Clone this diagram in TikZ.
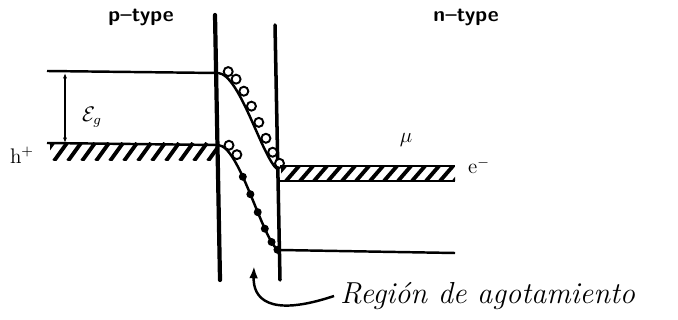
\documentclass[tikz,border=0pt]{standalone}
\usetikzlibrary{arrows.meta,positioning,calc}
\usepackage{amsmath}

\begin{document}
\begin{tikzpicture}[x=0.02cm, y=-0.02cm,
  band/.style={line width=1.4pt},
  wall/.style={line width=2.4pt, line cap=round},
  hatch/.style={line width=2.2pt},
  hole/.style={circle, draw, line width=1.1pt, fill=white, minimum size=0.18cm, inner sep=0pt},
  elec/.style={circle, fill=black, minimum size=0.16cm, inner sep=0pt},
  lbl/.style={font=\sffamily\bfseries\large}
]
  \useasboundingbox (0,0) rectangle (678,320);

  % junction walls
  \draw[wall] (215,15) coordinate (wl1) -- (220,280) coordinate (wl2);
  \draw[wall, line width=2pt] (275,25) coordinate (wr1) -- (280,280) coordinate (wr2);

  % p side bands
  \draw[band] (47,71) -- (217,73);
  \draw[band] (47,143) -- (217,145);
  \begin{scope}
    \clip (50,143) rectangle (216,161);
    \foreach \x in {40,54,...,230}{
      \draw[hatch] (\x,161) -- (\x+13,143);}
  \end{scope}

  % gap arrow
  \draw[{Latex[length=3pt]}-{Latex[length=3pt]}, line width=0.9pt] (65,73) -- (65,143);
  \node[font=\large] (eg) at (92,117) {$\mathcal{E}_g$};

  % bent bands in the depletion region
  \draw[band] (218,73) .. controls (240,74) and (262,158) .. (278,170);
  \draw[band] (218,145) .. controls (240,146) and (262,240) .. (279,251);
  \foreach \p in {0.08,0.2,0.32,0.44,0.56,0.68,0.8,0.93}{
    \path (218,73) .. controls (240,74) and (262,158) .. (278,170)
      node[hole, pos=\p, xshift=2.8pt, yshift=1.8pt] {};}
  \path (218,145) .. controls (240,146) and (262,240) .. (279,251)
    node[hole, pos=0.1, xshift=2.5pt, yshift=1.5pt] {}
    node[hole, pos=0.22, xshift=2.5pt, yshift=1.5pt] {};
  \foreach \p in {0.38,0.5,0.62,0.74,0.86,0.97}{
    \path (218,145) .. controls (240,146) and (262,240) .. (279,251)
      node[elec, pos=\p] {};}

  % n side bands
  \draw[band] (280,166) -- (455,166);
  \begin{scope}
    \clip (281,166) rectangle (455,181);
    \foreach \x in {272,286,...,470}{
      \draw[hatch] (\x,181) -- (\x+13,166);}
  \end{scope}
  \draw[band] (280,181) -- (455,181);
  \draw[band] (280,250) -- (455,253);

  % labels
  \node[lbl] (ptype) at (141,17) {p--type};
  \node[lbl] (ntype) at (466,17) {n--type};
  \node[font=\large] (hplus) at (22,155) {h$^+$};
  \node[font=\large] (mu) at (406,140) {$\mu$};
  \node[font=\large] (eminus) at (479,166) {e$^-$};
  \node[font=\LARGE\itshape, anchor=west] (region) at (334,296) {Regi\'on de agotamiento};
  \coordinate (tip) at (254,266);
  \draw[-{Latex[length=7pt,width=5pt]}, line width=1.4pt]
    (region.west) .. controls (268,318) and (253,298) .. (tip);
\end{tikzpicture}
\end{document}
